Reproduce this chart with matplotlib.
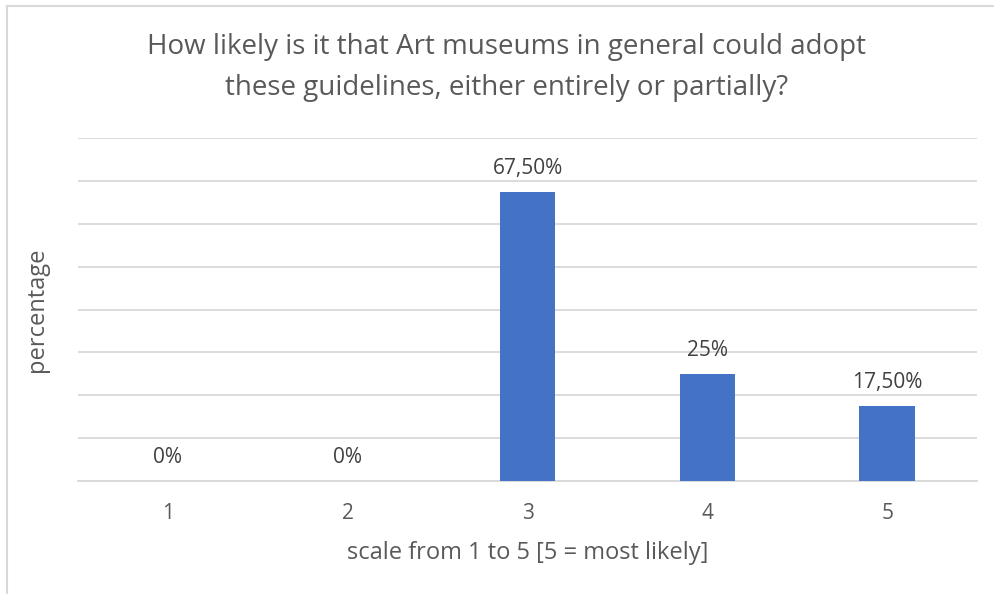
import matplotlib.pyplot as plt
from matplotlib.lines import Line2D

plt.rcParams['font.family'] = ['Open Sans', 'DejaVu Sans']

# datos
categorias = ["1", "2", "3", "4", "5"]
porcentajes = [0, 0, 67.5, 25, 17.5]
etiquetas = ["0%", "0%", "67,50%", "25%", "17,50%"]

titulo = "How likely is it that Art museums in general could adopt\nthese guidelines, either entirely or partially?"

fig = plt.figure(figsize=(9.94, 5.94), dpi=100)
ax = fig.add_axes([0.0785, 0.1902, 0.9045, 0.5774])

pos = list(range(len(categorias)))
ax.bar(pos, porcentajes, width=0.31, color="#4472C4", zorder=3)

for p, v, t in zip(pos, porcentajes, etiquetas):
    ax.annotate(t, (p, v), xytext=(0, 17), textcoords="offset points",
                ha="center", va="center", fontsize=15, color="#404040")

ax.set_xlim(-0.5, 4.5)
ax.set_ylim(0, 80)
ax.set_yticks(range(0, 81, 10))
ax.yaxis.grid(True, color="#D9D9D9", linewidth=1.3, zorder=0)
ax.tick_params(axis="y", left=False, labelleft=False)
ax.set_xticks(pos)
ax.set_xticklabels(categorias, fontsize=15, color="#595959")
ax.tick_params(axis="x", length=0, pad=16)
for s in ["top", "right", "left"]:
    ax.spines[s].set_visible(False)
ax.spines["bottom"].set_color("#D9D9D9")
ax.spines["bottom"].set_linewidth(1.3)

ax.set_xlabel("scale from 1 to 5 [5 = most likely]", fontsize=17, color="#595959", labelpad=12)
ax.set_ylabel("percentage", fontsize=17, color="#595959", labelpad=21)

# titulo en dos lineas
lineas = titulo.split("\n")
fig.text(0.51, 0.921, lineas[0], ha="center", va="center", fontsize=20, color="#595959")
fig.text(0.51, 0.852, lineas[1], ha="center", va="center", fontsize=20, color="#595959")

# borde del grafico
fig.add_artist(Line2D([7 / 994, 7 / 994], [0, 1 - 6 / 594], color="#D9D9D9", linewidth=1.5))
fig.add_artist(Line2D([7 / 994, 1], [1 - 6 / 594, 1 - 6 / 594], color="#D9D9D9", linewidth=1.5))

plt.savefig("out.png", dpi=100)
